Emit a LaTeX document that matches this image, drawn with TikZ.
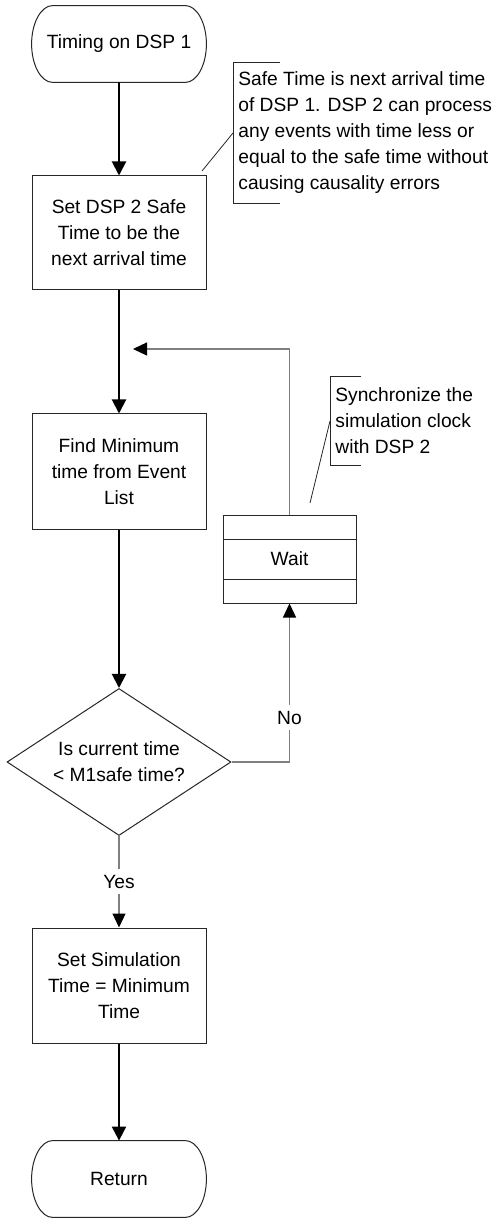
\documentclass[tikz,border=0pt]{standalone}
\usepackage{fontspec}
\setmainfont{Liberation Sans}
\usetikzlibrary{arrows.meta,shapes.geometric}
\tikzset{
  every node/.style={font=\fontsize{9.6pt}{13pt}\selectfont},
  flowbox/.style={draw=black!85,line width=.5pt,fill=white,align=center,minimum width=87pt,inner sep=0pt},
  termbox/.style={align=center,minimum width=87pt,minimum height=38pt,inner sep=0pt},
  decbox/.style={diamond,draw=black!85,line width=.5pt,fill=white,align=center,minimum width=112pt,minimum height=73.5pt,aspect=1.52,inner sep=0pt},
  waitbox/.style={draw=black!85,line width=.5pt,fill=white,minimum width=66.5pt,minimum height=44pt,inner sep=0pt},
  notetext/.style={align=left,inner sep=0pt,inner xsep=2.5pt},
  noteline/.style={line width=.4pt,black!85},
  outline/.style={line width=.5pt,black!85},
  mainarr/.style={-{Triangle[length=7pt,width=7pt]},line width=1pt},
  looparr/.style={-{Triangle[length=7pt,width=6.5pt,color=black]},line width=.6pt,black!50},
  lbl/.style={fill=white,text=black,inner xsep=1pt,inner ysep=3pt}
}
% terminator outline with elliptical ends
\newcommand\termline[1]{%
  \draw[outline] ([xshift=10.5pt]#1.north west) -- ([xshift=-10.5pt]#1.north east)
    .. controls ([xshift=-4.7pt]#1.north east) and ([yshift=10.5pt]#1.east) .. (#1.east)
    .. controls ([yshift=-10.5pt]#1.east) and ([xshift=-4.7pt]#1.south east) .. ([xshift=-10.5pt]#1.south east)
    -- ([xshift=10.5pt]#1.south west)
    .. controls ([xshift=4.7pt]#1.south west) and ([yshift=-10.5pt]#1.west) .. (#1.west)
    .. controls ([yshift=10.5pt]#1.west) and ([xshift=4.7pt]#1.north west) .. ([xshift=10.5pt]#1.north west) -- cycle;}
\begin{document}
\begin{tikzpicture}[x=0.5pt,y=-0.5pt]
  \useasboundingbox (0,0) rectangle (497,1218);

  \node[termbox] (start) at (119,44) {Timing on DSP 1};
  \termline{start}
  \node[flowbox,minimum height=57pt] (safe) at (119,233) {Set DSP 2 Safe\\Time to be the\\next arrival time};
  \node[flowbox,minimum height=57.5pt] (findmin) at (119,471.5) {Find Minimum\\time from Event\\List};
  \node[decbox] (check) at (119,762) {Is current time\\< M1safe time?};
  \node[flowbox,minimum height=57.5pt] (settime) at (119,985.5) {Set Simulation\\Time = Minimum\\Time};
  \node[termbox] (ret) at (119,1179) {Return};
  \termline{ret}

  % wait block with its two inner bars
  \node[waitbox] (wait) at (289.5,559) {Wait};
  \draw[outline] ([yshift=10pt]wait.west) -- ([yshift=10pt]wait.east);
  \draw[outline] ([yshift=-10pt]wait.west) -- ([yshift=-10pt]wait.east);

  % comments
  \node[notetext,anchor=west,minimum height=70pt] (note1) at (233,133) {Safe Time is next arrival time\\of DSP 1. DSP 2 can process\\any events with time less or\\equal to the safe time without\\causing causality errors};
  \draw[noteline] ([xshift=23.5pt]note1.north west) -- (note1.north west) -- (note1.south west) -- ([xshift=23.5pt]note1.south west);
  \coordinate (tip1) at (202,171);
  \draw[noteline] (tip1) -- (note1.west);

  \node[notetext,anchor=west,minimum height=44pt] (note2) at (330,421) {Synchronize the\\simulation clock\\with DSP 2};
  \draw[noteline] ([xshift=15.5pt]note2.north west) -- (note2.north west) -- (note2.south west) -- ([xshift=15.5pt]note2.south west);
  \coordinate (tip2) at (310,503);
  \draw[noteline] (tip2) -- (note2.west);

  \draw[mainarr] (start) -- (safe);
  \draw[mainarr] (safe) -- (findmin);
  \draw[mainarr] (findmin) -- (check);
  \draw[mainarr] (settime) -- (ret);

  \draw[looparr] (check) -- node[lbl] {Yes} (settime);
  \draw[looparr] (check.east) -| node[lbl,pos=.64] {No} (wait.south);
  \coordinate (loopend) at (133,349);
  \draw[looparr] (wait.north) |- (loopend);
\end{tikzpicture}
\end{document}
